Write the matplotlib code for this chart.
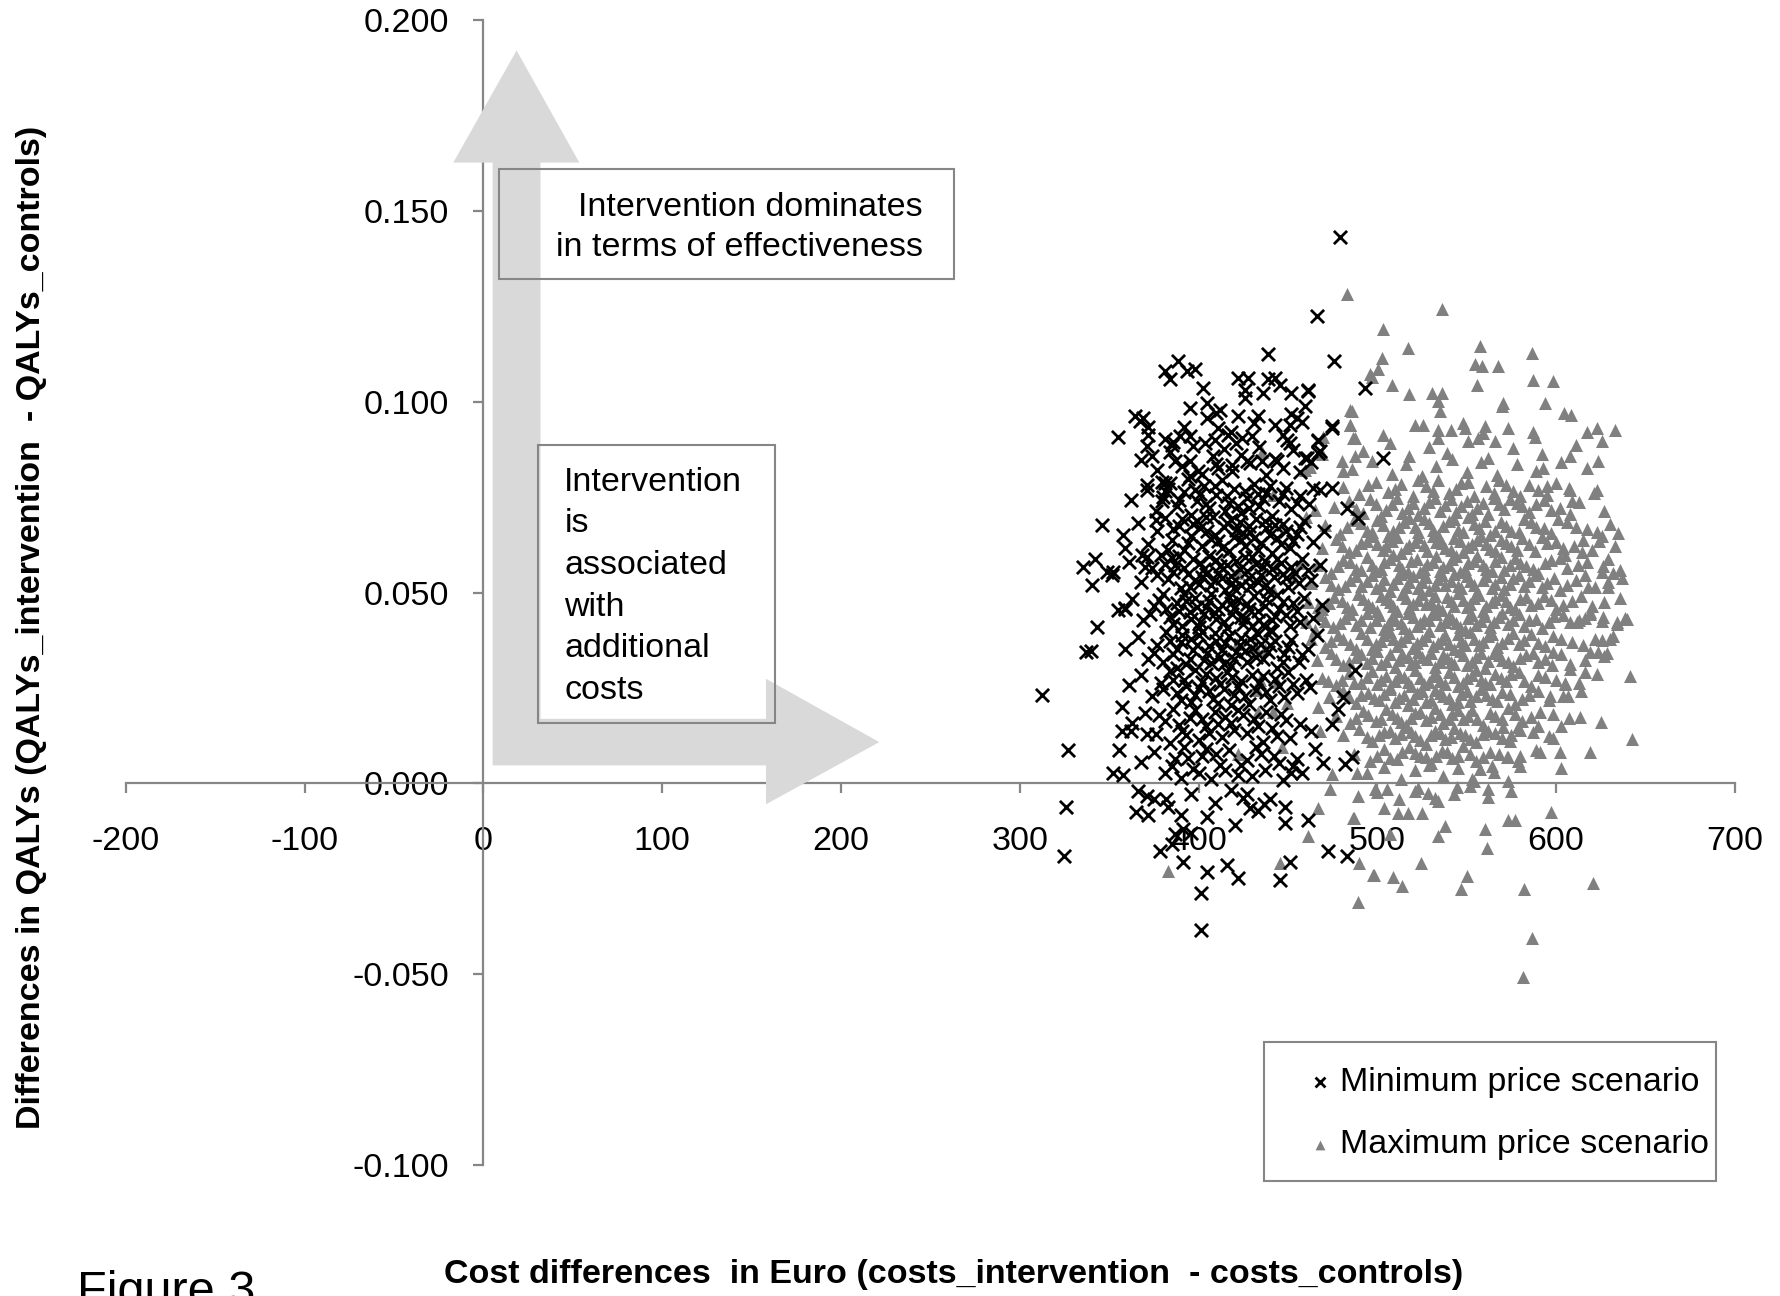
import matplotlib
matplotlib.use('Agg')
import matplotlib.pyplot as plt
from matplotlib.patches import Polygon, Rectangle
from matplotlib.ticker import FormatStrFormatter

plt.rcParams['font.family'] = ['Liberation Sans', 'DejaVu Sans']
plt.rcParams['axes.unicode_minus'] = False

GREY_AX = '#868686'
GREY_PTS = '#808080'
GREY_ARROW = '#d9d9d9'
FS = 24.5

# bootstrap replicates, minimum price scenario (cost diff in Euro, QALY diff)
min_pts = [
    # outer points
    (312.2, 0.0232), (327, 0.0088), (326, -0.0061), (324.6, -0.0191), (343, 0.0411), (337, 0.0345),
    (340, 0.0347), (358.9, 0.046), (352.3, 0.0026), (358, 0.0022), (357.4, 0.020), (357, 0.0136),
    (362, 0.0136), (355.5, 0.0088), (371, 0.0129), (366, -0.002), (375, -0.0042), (382, -0.0042),
    (365, -0.0075), (372, -0.0083), (378.5, -0.0178), (385, -0.016), (387, -0.0134), (391.5, -0.0121),
    (396, -0.013), (391.5, -0.0206), (404.5, -0.0233), (401.4, -0.0288), (401.4, -0.0384), (420.4, -0.011),
    (415.7, -0.0213), (421.9, -0.0247), (445.6, -0.0254), (451, -0.0206), (448.4, -0.0061), (448.4, -0.0103),
    (461.4, -0.0097), (472.6, -0.0178), (482.8, -0.0191), (433.4, -0.0073), (436.6, -0.0053), (427, -0.0029),
    (465, 0.0089), (469.8, 0.0054), (482, 0.005), (485.6, 0.0068), (455, 0.0063), (452, 0.0028),
    (457.7, 0.0028), (462.4, 0.0252), (478, 0.0195), (481, 0.0226), (474.5, 0.0155), (487.5, 0.0297),
    (466, 0.1225), (476, 0.1107), (493.1, 0.1037), (503.4, 0.0853), (474.5, 0.0932), (467, 0.0897),
    (468, 0.087), (461.4, 0.1028), (459.6, 0.0989), (459.6, 0.0853), (464.2, 0.0774), (474.5, 0.0774),
    (482.8, 0.0721), (489.4, 0.0695), (479, 0.1432), (439, 0.1126), (388.7, 0.1107), (381.3, 0.1081),
    (384, 0.1059), (393.4, 0.1081), (398, 0.1085), (402.7, 0.1037), (422.3, 0.1063), (427.9, 0.1063),
    (439, 0.1059), (442.8, 0.1063), (445.6, 0.1045), (426, 0.1032), (436.2, 0.1024), (452, 0.1024),
    (461.4, 0.1032), (395.2, 0.0984), (404.5, 0.0997), (410, 0.0971), (422.3, 0.0962), (426, 0.1011),
    (433.4, 0.0962), (452, 0.0967), (455, 0.0958), (442.8, 0.094), (451.2, 0.094), (474.4, 0.0936),
    (364.5, 0.0962), (369, 0.0958), (354.8, 0.0907), (371.9, 0.0914), (371, 0.0883), (373.8, 0.0857),
    (385, 0.0888), (389.6, 0.091), (395.2, 0.091), (403.6, 0.0892), (409.2, 0.0901), (411, 0.0932),
    (416.7, 0.0914), (424.1, 0.0905), (429.7, 0.091), (386.9, 0.0844), (395.2, 0.0844), (399.9, 0.0818),
    (411, 0.0826), (418.5, 0.0835), (426.9, 0.0844), (435.3, 0.0844), (443.7, 0.0844), (449.3, 0.0901),
    (451.2, 0.0892), (467, 0.0901), (467, 0.0866), (460.4, 0.0853), (371, 0.0782), (379.4, 0.0791),
    (381.3, 0.0787), (345.8, 0.0677), (335.6, 0.0568), (342.1, 0.0589), (348.6, 0.0554), (351.4, 0.0546),
    (340.2, 0.0519), (358.9, 0.0618), (358.9, 0.0458), (370, 0.0568), (368.2, 0.0598), (379.4, 0.0739),
    (381.3, 0.0765), (367.5, 0.0949), (372, 0.0935),
    # core
    (392, 0.0935), (405, 0.0958), (418, 0.0921), (431, 0.0944), (447, 0.0912), (381, 0.0903), (458, 0.0947), (412, 0.0979),
    (368, 0.0848), (377, 0.0822), (384, 0.0869), (391, 0.0831), (397, 0.0884), (402, 0.0812), (408, 0.0857), (414, 0.0876),
    (419, 0.0818), (424, 0.0861), (429, 0.0839), (434, 0.0882), (438, 0.0807), (443, 0.0851), (447, 0.0826), (453, 0.0874),
    (457, 0.0815), (463, 0.0843), (395, 0.0805), (421, 0.0893), (410, 0.0838), (386, 0.0895),
    (362, 0.0742), (371, 0.0768), (376, 0.0713), (380, 0.0751), (384, 0.0786), (388, 0.0728), (392, 0.0764), (396, 0.0702),
    (399, 0.0741), (403, 0.0779), (406, 0.0722), (410, 0.0757), (413, 0.0795), (417, 0.0734), (420, 0.0771), (424, 0.0709),
    (427, 0.0748), (431, 0.0784), (434, 0.0726), (438, 0.0762), (441, 0.0701), (445, 0.0739), (449, 0.0775), (452, 0.0718),
    (457, 0.0754), (462, 0.0731), (468, 0.0768), (394, 0.0797), (415, 0.0713), (436, 0.0744), (401, 0.0758), (428, 0.0721),
    (383, 0.0772), (389, 0.0743), (398, 0.0768), (404, 0.0731), (409, 0.0778), (416, 0.0752), (422, 0.0728), (426, 0.0766),
    (433, 0.0759), (440, 0.0779), (447, 0.0758), (455, 0.0735),
    (358, 0.0651), (366, 0.0683), (372, 0.0627), (377, 0.0662), (381, 0.0695), (385, 0.0638), (389, 0.0674), (392, 0.0612),
    (396, 0.0649), (399, 0.0687), (402, 0.0623), (405, 0.0661), (408, 0.0698), (411, 0.0636), (414, 0.0672), (417, 0.0609),
    (420, 0.0645), (423, 0.0684), (426, 0.0621), (429, 0.0658), (432, 0.0693), (435, 0.0631), (438, 0.0669), (441, 0.0604),
    (444, 0.0642), (447, 0.0679), (451, 0.0617), (455, 0.0654), (459, 0.0688), (464, 0.0633), (470, 0.0662), (383, 0.0612),
    (407, 0.0641), (418, 0.0691), (433, 0.0611), (397, 0.0679), (425, 0.0655), (446, 0.0627),
    (376, 0.0689), (386, 0.0667), (391, 0.0693), (394, 0.0631), (401, 0.0668), (404, 0.0697), (409, 0.0652), (413, 0.0618),
    (416, 0.0683), (421, 0.0663), (424, 0.0637), (428, 0.0674), (431, 0.0642), (437, 0.0688), (440, 0.0651), (443, 0.0678),
    (449, 0.0661), (453, 0.0636), (457, 0.0671),
    (352, 0.0553), (361, 0.0581), (368, 0.0527), (374, 0.0564), (379, 0.0598), (383, 0.0536), (387, 0.0572), (390, 0.0511),
    (394, 0.0548), (397, 0.0587), (400, 0.0523), (403, 0.0561), (406, 0.0596), (409, 0.0532), (412, 0.0569), (415, 0.0507),
    (418, 0.0544), (421, 0.0583), (424, 0.0519), (427, 0.0557), (430, 0.0592), (433, 0.0528), (436, 0.0566), (439, 0.0503),
    (442, 0.0541), (446, 0.0578), (450, 0.0514), (454, 0.0552), (458, 0.0589), (463, 0.0534), (468, 0.0571), (385, 0.0591),
    (402, 0.0542), (419, 0.0526), (437, 0.0584), (411, 0.0552), (395, 0.0515), (428, 0.0538), (447, 0.0549),
    (371, 0.0592), (377, 0.0546), (381, 0.0574), (386, 0.0553), (389, 0.0596), (392, 0.0564), (398, 0.0533), (401, 0.0577),
    (404, 0.0548), (407, 0.0519), (410, 0.0586), (413, 0.0538), (416, 0.0573), (420, 0.0512), (423, 0.0562), (426, 0.0594),
    (429, 0.0517), (432, 0.0574), (435, 0.0545), (438, 0.0521), (441, 0.0563), (444, 0.0587), (449, 0.0538), (452, 0.0568),
    (456, 0.0525), (461, 0.0558),
    (355, 0.0453), (363, 0.0482), (369, 0.0427), (375, 0.0466), (380, 0.0497), (384, 0.0435), (388, 0.0473), (391, 0.0412),
    (395, 0.0449), (398, 0.0486), (401, 0.0424), (404, 0.0462), (407, 0.0495), (410, 0.0431), (413, 0.0468), (416, 0.0406),
    (419, 0.0443), (422, 0.0481), (425, 0.0418), (428, 0.0456), (431, 0.0491), (434, 0.0427), (437, 0.0464), (440, 0.0402),
    (443, 0.0439), (447, 0.0476), (451, 0.0413), (455, 0.0451), (459, 0.0487), (464, 0.0433), (469, 0.0468), (392, 0.0496),
    (409, 0.0447), (426, 0.0433), (444, 0.0493), (400, 0.0409), (418, 0.0472), (436, 0.0415),
    (373, 0.0443), (378, 0.0481), (382, 0.0458), (386, 0.0417), (389, 0.0452), (393, 0.0478), (396, 0.0431), (399, 0.0462),
    (403, 0.0444), (406, 0.0478), (411, 0.0457), (414, 0.0423), (417, 0.0489), (420, 0.0459), (424, 0.0437), (427, 0.0471),
    (430, 0.0412), (433, 0.0452), (438, 0.0482), (441, 0.0427), (445, 0.0458), (449, 0.0441), (453, 0.0472), (457, 0.0424),
    (359, 0.0352), (366, 0.0384), (372, 0.0327), (377, 0.0363), (382, 0.0396), (386, 0.0338), (390, 0.0371), (393, 0.0314),
    (397, 0.0349), (400, 0.0388), (403, 0.0322), (406, 0.0359), (409, 0.0394), (412, 0.0331), (415, 0.0368), (418, 0.0307),
    (421, 0.0344), (424, 0.0382), (427, 0.0318), (430, 0.0355), (433, 0.0391), (436, 0.0326), (440, 0.0363), (444, 0.0302),
    (448, 0.0339), (452, 0.0376), (456, 0.0317), (461, 0.0353), (466, 0.0388), (388, 0.0301), (405, 0.0341), (423, 0.0362),
    (441, 0.0398), (414, 0.0312), (396, 0.0379),
    (375, 0.0341), (380, 0.0319), (384, 0.0374), (388, 0.0352), (391, 0.0389), (395, 0.0326), (399, 0.0362), (402, 0.0397),
    (407, 0.0316), (410, 0.0372), (413, 0.0349), (417, 0.0385), (420, 0.0326), (426, 0.0346), (429, 0.0378), (432, 0.0331),
    (435, 0.0366), (439, 0.0344), (443, 0.0372), (447, 0.0318), (450, 0.0357), (458, 0.0336),
    (361, 0.0257), (368, 0.0284), (374, 0.0228), (379, 0.0263), (384, 0.0295), (388, 0.0238), (392, 0.0271), (396, 0.0213),
    (400, 0.0249), (404, 0.0286), (408, 0.0222), (412, 0.0259), (416, 0.0293), (420, 0.0231), (424, 0.0268), (428, 0.0207),
    (432, 0.0244), (436, 0.0282), (440, 0.0218), (445, 0.0256), (450, 0.0291), (455, 0.0236), (460, 0.0271), (398, 0.0297),
    (418, 0.0204), (434, 0.0262), (390, 0.0219), (410, 0.0276),
    (380, 0.0247), (386, 0.0272), (393, 0.0254), (398, 0.0231), (402, 0.0266), (406, 0.0241), (411, 0.0211), (414, 0.0247),
    (419, 0.0279), (422, 0.0252), (426, 0.0229), (430, 0.0284), (438, 0.0239), (443, 0.0273), (448, 0.0227), (453, 0.0261),
    (363, 0.0157), (370, 0.0184), (376, 0.0128), (381, 0.0163), (386, 0.0195), (391, 0.0138), (395, 0.0171), (400, 0.0113),
    (404, 0.0149), (409, 0.0186), (413, 0.0122), (418, 0.0159), (422, 0.0193), (427, 0.0131), (431, 0.0168), (436, 0.0107),
    (441, 0.0144), (446, 0.0182), (451, 0.0119), (457, 0.0156), (463, 0.0138), (384, 0.0106), (415, 0.0174), (398, 0.0192),
    (378, 0.0179), (389, 0.0154), (393, 0.0127), (402, 0.0168), (406, 0.0133), (411, 0.0156), (420, 0.0141), (425, 0.0178),
    (433, 0.0149), (438, 0.0186), (444, 0.0125), (449, 0.0167),
    (368, 0.0057), (375, 0.0083), (381, 0.0028), (387, 0.0064), (392, 0.0094), (397, 0.0038), (402, 0.0071), (407, 0.0012),
    (412, 0.0049), (417, 0.0086), (422, 0.0023), (427, 0.0061), (432, 0.0095), (437, 0.0034), (442, 0.0072), (447, 0.0008),
    (453, 0.0045), (404, 0.0091), (390, 0.0015),
    (385, 0.0046), (394, 0.0066), (400, 0.0027), (410, 0.0076), (415, 0.0035), (424, 0.0049), (430, 0.0018), (435, 0.0078),
    (445, 0.0054),
    (371, -0.0034), (383, -0.0061), (396, -0.0027), (409, -0.0052), (418, -0.0018), (429, -0.0066), (440, -0.0041),
    (405, -0.0088), (390, -0.0083), (425, -0.0039),
]

# bootstrap replicates, maximum price scenario
max_pts = [
    # outer points
    (482.8, 0.1282), (536, 0.1243), (503.4, 0.119), (517.3, 0.1142), (502.4, 0.1116), (557.4, 0.1147),
    (586.3, 0.1129), (554.6, 0.1098), (567.7, 0.1094), (598.4, 0.1054), (555.5, 0.1045), (495.9, 0.1072),
    (508, 0.1045), (530.4, 0.1024), (536, 0.1024), (534.1, 0.1002), (535, 0.0976), (570.5, 0.0997),
    (593.8, 0.0997), (604.4, 0.0971), (485.6, 0.0976), (484.7, 0.094), (486.6, 0.0905), (487.5, 0.0857),
    (480, 0.0844), (481, 0.0818), (525.7, 0.094), (534.1, 0.0927), (549, 0.0932), (560.2, 0.0936),
    (565.8, 0.0897), (556.5, 0.0905), (587.2, 0.0922), (622.6, 0.0932), (632.9, 0.0927), (625.4, 0.0897),
    (623.6, 0.0844), (607.8, 0.0857), (622.6, 0.0769), (607.8, 0.0769), (608.7, 0.0739), (594.7, 0.0778),
    (625.4, 0.0647), (634.8, 0.0655), (605, 0.0598), (614.3, 0.0607), (619.9, 0.0611), (629.2, 0.0589),
    (625.4, 0.0554), (632, 0.055), (629.2, 0.0515), (618, 0.0515), (638.5, 0.0432), (608.2, 0.0966),
    (617.1, 0.0922), (592.4, 0.0827), (587.3, 0.1056), (569.5, 0.099), (558.7, 0.1095), (518, 0.102),
    (500.2, 0.1086), (469.7, 0.0907), (469.1, 0.0862), (625.4, 0.0425), (634.3, 0.0422), (628.5, 0.0342),
    (639.4, 0.043), (641.3, 0.0281), (642.2, 0.0116), (630, 0.0379), (619, 0.0081), (625.1, 0.016),
    (620.8, -0.0261), (586.3, -0.0406), (581.7, -0.0507), (597, -0.0075), (573.3, -0.0095), (577, -0.0095),
    (560.2, -0.0121), (561.1, -0.0169), (550, -0.0244), (546.6, -0.0276), (537.8, -0.0112), (534, -0.0139),
    (524.4, -0.0209), (513.6, -0.0268), (498.3, -0.024), (489.4, -0.031), (486.6, -0.009), (503.9, -0.0064),
    (511.7, -0.0077), (517.3, -0.0077), (525, -0.0077), (489.4, -0.0033), (498.7, -0.0016), (505.3, -0.0016),
    (521, -0.002), (528.5, -0.0025), (532.3, -0.0038), (544.4, -0.0011), (562, -0.0016), (572.9, 0.0006),
    (603, 0.0041), (602.2, 0.0081), (591, 0.0081), (578.9, 0.0059), (572.3, 0.0068), (574.2, 0.0111),
    (552.7, 0.001), (557.4, 0.0037), (563.9, 0.0046), (598.4, 0.012), (603, 0.0151), (590, 0.0151),
    (578.9, 0.0147), (570.5, 0.0147), (613.4, 0.0173), (606.8, 0.023), (596.6, 0.023), (619, 0.0344),
    (623.6, 0.0344), (625.5, 0.0375), (616.2, 0.0291), (607.8, 0.03), (605, 0.026), (597.5, 0.0311),
    (611.5, 0.0423), (616.2, 0.0432), (619, 0.0445), (490, -0.0209), (508.5, -0.0245), (582, -0.0278),
    (382.7, -0.0231), (445.6, -0.0209), (461.4, -0.0139), (467, -0.0064), (473.5, -0.0016), (474.4, 0.0024),
    (488.4, 0.0028), (487, -0.009), (497.8, -0.024), (507, -0.0134),
    # among the minimum-price cloud
    (421.3, 0.0366), (431.6, 0.0357), (437.2, 0.0353), (441.8, 0.0186), (433.4, 0.0186), (422.3, 0.0076),
    (446.5, 0.0094), (472.6, 0.0269), (467, 0.0199), (468, 0.0138), (460, 0.0699), (435.3, 0.0869),
    (441.8, 0.0756), (459.6, 0.0821), (462.4, 0.083), (465.2, 0.0716), (484.5, 0.0979), (484.5, 0.094),
    (487.3, 0.0904), (496.9, 0.1066), (422.3, 0.055), (453, 0.0542), (456.8, 0.0577), (441.8, 0.0507),
    (467, 0.0463), (465.2, 0.0402), (434.4, 0.0271), (443.7, 0.0266), (432.5, 0.0245), (449.3, 0.021),
    # core
    (503, 0.0912), (521, 0.0938), (534, 0.0905), (548, 0.0944), (559, 0.0918), (573, 0.0931), (588, 0.0909), (541, 0.0926),
    (492, 0.0871), (507, 0.0893), (518, 0.0858), (529, 0.0882), (539, 0.0866), (551, 0.0897), (562, 0.0853), (576, 0.0879),
    (592, 0.0864), (611, 0.0886),
    (486, 0.0823), (497, 0.0845), (508, 0.0812), (516, 0.0838), (525, 0.0806), (533, 0.0832), (542, 0.0849), (550, 0.0815),
    (558, 0.0841), (567, 0.0809), (578, 0.0836), (589, 0.0818), (603, 0.0843), (617, 0.0827),
    (481, 0.0776), (490, 0.0758), (499, 0.0791), (506, 0.0763), (513, 0.0785), (520, 0.0752), (527, 0.0779), (534, 0.0796),
    (540, 0.0761), (547, 0.0787), (554, 0.0754), (561, 0.0778), (568, 0.0794), (576, 0.0766), (585, 0.0783), (595, 0.0757),
    (607, 0.0774), (621, 0.0761),
    (495, 0.0782), (510, 0.0771), (523, 0.0794), (531, 0.0765), (544, 0.0772), (551, 0.0789), (565, 0.0762), (572, 0.0781),
    (580, 0.0754), (590, 0.0769), (600, 0.0788),
    (476, 0.0724), (484, 0.0741), (492, 0.0708), (499, 0.0732), (505, 0.0716), (511, 0.0747), (517, 0.0721), (523, 0.0703),
    (529, 0.0738), (535, 0.0714), (541, 0.0745), (547, 0.0726), (553, 0.0707), (559, 0.0734), (565, 0.0749), (571, 0.0718),
    (578, 0.0736), (585, 0.0711), (593, 0.0743), (602, 0.0722), (613, 0.0738), (627, 0.0715),
    (488, 0.0719), (496, 0.0745), (502, 0.0701), (508, 0.0731), (514, 0.0709), (520, 0.0736), (526, 0.0722), (532, 0.0748),
    (538, 0.0729), (544, 0.0711), (550, 0.0739), (556, 0.0722), (562, 0.0706), (568, 0.0731), (574, 0.0745), (581, 0.0726),
    (589, 0.0731), (597, 0.0717), (608, 0.0706),
    (471, 0.0676), (479, 0.0654), (487, 0.0689), (494, 0.0662), (500, 0.0691), (506, 0.0648), (512, 0.0673), (518, 0.0695),
    (523, 0.0658), (529, 0.0681), (534, 0.0652), (540, 0.0687), (545, 0.0664), (551, 0.0698), (557, 0.0669), (563, 0.0651),
    (569, 0.0684), (575, 0.0661), (582, 0.0693), (589, 0.0672), (597, 0.0655), (606, 0.0686), (617, 0.0666), (630, 0.0679),
    (483, 0.0671), (491, 0.0682), (497, 0.0658), (503, 0.0677), (509, 0.0661), (515, 0.0686), (521, 0.0672), (526, 0.0692),
    (531, 0.0663), (537, 0.0675), (543, 0.0693), (548, 0.0658), (554, 0.0679), (560, 0.0688), (566, 0.0662), (572, 0.0675),
    (579, 0.0658), (586, 0.0684), (593, 0.0669), (601, 0.0692), (611, 0.0672), (623, 0.0658),
    (469, 0.0618), (477, 0.0641), (484, 0.0607), (491, 0.0629), (497, 0.0647), (503, 0.0612), (508, 0.0636), (513, 0.0603),
    (518, 0.0624), (523, 0.0645), (528, 0.0609), (533, 0.0633), (538, 0.0616), (543, 0.0642), (548, 0.0605), (553, 0.0628),
    (558, 0.0649), (563, 0.0614), (569, 0.0637), (575, 0.0621), (581, 0.0644), (588, 0.0608), (595, 0.0631), (604, 0.0617),
    (615, 0.0639), (633, 0.0623),
    (480, 0.0623), (488, 0.0611), (494, 0.0634), (500, 0.0628), (505, 0.0621), (511, 0.0646), (516, 0.0617), (521, 0.0633),
    (526, 0.0624), (531, 0.0647), (536, 0.0629), (541, 0.0611), (546, 0.0634), (551, 0.0619), (556, 0.0637), (561, 0.0627),
    (566, 0.0608), (572, 0.0629), (578, 0.0611), (585, 0.0626), (592, 0.0645), (600, 0.0633), (610, 0.0621), (624, 0.0635),
    (466, 0.0572), (474, 0.0551), (481, 0.0586), (488, 0.0563), (494, 0.0594), (499, 0.0557), (504, 0.0579), (509, 0.0598),
    (514, 0.0561), (519, 0.0583), (524, 0.0553), (528, 0.0575), (533, 0.0596), (537, 0.0566), (542, 0.0588), (546, 0.0554),
    (551, 0.0577), (556, 0.0595), (561, 0.0562), (566, 0.0584), (571, 0.0558), (577, 0.0591), (583, 0.0569), (590, 0.0552),
    (597, 0.0586), (606, 0.0565), (617, 0.0581), (636, 0.0559),
    (478, 0.0569), (485, 0.0581), (491, 0.0559), (497, 0.0573), (502, 0.0562), (507, 0.0588), (512, 0.0572), (517, 0.0553),
    (522, 0.0589), (526, 0.0563), (531, 0.0579), (535, 0.0556), (540, 0.0571), (544, 0.0597), (549, 0.0563), (554, 0.0583),
    (559, 0.0571), (564, 0.0556), (569, 0.0592), (574, 0.0571), (580, 0.0578), (587, 0.0562), (594, 0.0577), (602, 0.0591),
    (612, 0.0573), (626, 0.0569),
    (463, 0.0524), (471, 0.0541), (478, 0.0508), (485, 0.0532), (491, 0.0516), (497, 0.0547), (502, 0.0521), (507, 0.0503),
    (511, 0.0538), (516, 0.0514), (520, 0.0543), (525, 0.0527), (529, 0.0506), (534, 0.0535), (538, 0.0519), (543, 0.0548),
    (547, 0.0511), (552, 0.0531), (556, 0.0502), (561, 0.0544), (566, 0.0523), (571, 0.0509), (576, 0.0537), (582, 0.0518),
    (588, 0.0546), (595, 0.0526), (602, 0.0507), (611, 0.0533), (622, 0.0515), (637, 0.0539),
    (474, 0.0521), (482, 0.0518), (488, 0.0543), (494, 0.0529), (499, 0.0511), (504, 0.0536), (509, 0.0523), (513, 0.0549),
    (518, 0.0528), (523, 0.0512), (527, 0.0541), (532, 0.0521), (536, 0.0546), (541, 0.0529), (545, 0.0517), (550, 0.0544),
    (554, 0.0521), (559, 0.0532), (564, 0.0511), (569, 0.0541), (574, 0.0522), (579, 0.0546), (585, 0.0529), (592, 0.0514),
    (599, 0.0538), (606, 0.0521), (616, 0.0545), (629, 0.0527),
    (461, 0.0476), (469, 0.0458), (476, 0.0489), (483, 0.0463), (489, 0.0495), (495, 0.0471), (500, 0.0452), (505, 0.0484),
    (509, 0.0466), (514, 0.0497), (518, 0.0459), (523, 0.0481), (527, 0.0469), (532, 0.0492), (536, 0.0455), (541, 0.0478),
    (545, 0.0499), (550, 0.0462), (554, 0.0486), (559, 0.0451), (564, 0.0474), (569, 0.0494), (574, 0.0461), (580, 0.0483),
    (586, 0.0468), (593, 0.0491), (600, 0.0457), (609, 0.0479), (620, 0.0465), (636, 0.0487),
    (473, 0.0472), (480, 0.0479), (486, 0.0456), (492, 0.0483), (497, 0.0462), (502, 0.0491), (507, 0.0475), (511, 0.0452),
    (516, 0.0486), (520, 0.0469), (525, 0.0496), (530, 0.0474), (534, 0.0463), (539, 0.0489), (543, 0.0466), (548, 0.0481),
    (552, 0.0471), (557, 0.0493), (561, 0.0466), (566, 0.0484), (572, 0.0477), (577, 0.0456), (583, 0.0488), (590, 0.0473),
    (597, 0.0481), (604, 0.0468), (614, 0.0491), (627, 0.0474),
    (460, 0.0423), (468, 0.0441), (475, 0.0409), (482, 0.0434), (488, 0.0416), (494, 0.0447), (499, 0.0428), (504, 0.0404),
    (508, 0.0437), (513, 0.0419), (517, 0.0446), (522, 0.0412), (526, 0.0431), (531, 0.0449), (535, 0.0414), (540, 0.0438),
    (544, 0.0421), (549, 0.0403), (553, 0.0442), (558, 0.0426), (563, 0.0409), (568, 0.0436), (573, 0.0418), (579, 0.0445),
    (585, 0.0427), (592, 0.0406), (599, 0.0439), (608, 0.0422), (619, 0.0448), (634, 0.0417),
    (471, 0.0426), (479, 0.0421), (485, 0.0443), (491, 0.0427), (496, 0.0411), (501, 0.0442), (506, 0.0418), (510, 0.0429),
    (515, 0.0408), (520, 0.0437), (524, 0.0419), (529, 0.0427), (533, 0.0443), (538, 0.0422), (542, 0.0431), (546, 0.0411),
    (551, 0.0432), (555, 0.0416), (560, 0.0438), (565, 0.0424), (570, 0.0446), (576, 0.0429), (582, 0.0413), (589, 0.0431),
    (596, 0.0423), (604, 0.0441), (613, 0.0427), (626, 0.0436),
    (463, 0.0378), (471, 0.0356), (478, 0.0389), (485, 0.0364), (491, 0.0394), (497, 0.0352), (502, 0.0373), (507, 0.0397),
    (511, 0.0361), (516, 0.0384), (520, 0.0355), (525, 0.0376), (529, 0.0398), (534, 0.0367), (538, 0.0389), (543, 0.0353),
    (547, 0.0374), (552, 0.0396), (557, 0.0362), (562, 0.0385), (567, 0.0358), (573, 0.0381), (579, 0.0366), (586, 0.0392),
    (594, 0.0359), (603, 0.0377), (615, 0.0363), (632, 0.0386),
    (474, 0.0373), (481, 0.0379), (488, 0.0352), (494, 0.0379), (499, 0.0364), (504, 0.0388), (509, 0.0379), (513, 0.0372),
    (518, 0.0393), (522, 0.0367), (527, 0.0386), (531, 0.0359), (536, 0.0378), (540, 0.0364), (545, 0.0391), (549, 0.0362),
    (554, 0.0379), (559, 0.0371), (564, 0.0392), (570, 0.0368), (576, 0.0394), (582, 0.0376), (590, 0.0369), (598, 0.0385),
    (609, 0.0371), (622, 0.0379),
    (466, 0.0324), (474, 0.0341), (481, 0.0309), (488, 0.0332), (494, 0.0316), (500, 0.0347), (505, 0.0321), (510, 0.0304),
    (514, 0.0338), (519, 0.0313), (523, 0.0344), (528, 0.0327), (532, 0.0306), (537, 0.0335), (541, 0.0318), (546, 0.0348),
    (550, 0.0311), (555, 0.0331), (560, 0.0302), (565, 0.0342), (570, 0.0323), (576, 0.0308), (583, 0.0337), (590, 0.0319),
    (598, 0.0345), (608, 0.0314), (627, 0.0333),
    (477, 0.0325), (484, 0.0318), (491, 0.0338), (497, 0.0329), (502, 0.0314), (507, 0.0339), (512, 0.0322), (517, 0.0331),
    (521, 0.0318), (525, 0.0331), (530, 0.0341), (535, 0.0319), (539, 0.0329), (543, 0.0312), (548, 0.0336), (553, 0.0319),
    (558, 0.0341), (562, 0.0321), (568, 0.0337), (573, 0.0318), (580, 0.0328), (587, 0.0341), (594, 0.0327), (603, 0.0338),
    (616, 0.0322),
    (469, 0.0276), (477, 0.0258), (484, 0.0288), (491, 0.0263), (497, 0.0294), (502, 0.0271), (507, 0.0252), (512, 0.0284),
    (517, 0.0266), (521, 0.0297), (526, 0.0259), (531, 0.0281), (535, 0.0268), (540, 0.0291), (545, 0.0254), (550, 0.0277),
    (555, 0.0298), (560, 0.0262), (566, 0.0286), (572, 0.0269), (579, 0.0293), (586, 0.0256), (594, 0.0279), (605, 0.0264),
    (623, 0.0287),
    (480, 0.0271), (487, 0.0264), (494, 0.0279), (500, 0.0259), (505, 0.0282), (510, 0.0268), (515, 0.0279), (519, 0.0256),
    (524, 0.0276), (529, 0.0266), (533, 0.0287), (538, 0.0261), (543, 0.0279), (548, 0.0263), (553, 0.0284), (558, 0.0271),
    (563, 0.0259), (569, 0.0277), (575, 0.0286), (582, 0.0268), (590, 0.0283), (600, 0.0271), (613, 0.0262),
    (473, 0.0226), (481, 0.0243), (488, 0.0211), (495, 0.0236), (501, 0.0218), (507, 0.0247), (512, 0.0223), (517, 0.0205),
    (522, 0.0238), (527, 0.0214), (532, 0.0245), (537, 0.0229), (542, 0.0207), (547, 0.0234), (552, 0.0216), (558, 0.0248),
    (564, 0.0221), (570, 0.0239), (577, 0.0208), (585, 0.0232), (596, 0.0219), (614, 0.0241),
    (484, 0.0226), (491, 0.0231), (498, 0.0224), (504, 0.0233), (510, 0.0212), (515, 0.0231), (520, 0.0222), (525, 0.0241),
    (530, 0.0219), (535, 0.0236), (540, 0.0224), (545, 0.0213), (550, 0.0241), (555, 0.0228), (561, 0.0232), (567, 0.0216),
    (574, 0.0233), (581, 0.0221), (590, 0.0242), (604, 0.0228),
    (477, 0.0176), (485, 0.0158), (492, 0.0189), (499, 0.0163), (505, 0.0194), (511, 0.0171), (516, 0.0152), (521, 0.0184),
    (527, 0.0166), (532, 0.0197), (537, 0.0159), (542, 0.0181), (548, 0.0168), (553, 0.0192), (559, 0.0154), (566, 0.0177),
    (573, 0.0198), (581, 0.0162), (591, 0.0186), (607, 0.0171),
    (488, 0.0171), (495, 0.0178), (502, 0.0169), (508, 0.0182), (513, 0.0161), (519, 0.0172), (524, 0.0186), (530, 0.0174),
    (535, 0.0181), (540, 0.0168), (545, 0.0191), (551, 0.0176), (556, 0.0169), (563, 0.0183), (570, 0.0169), (577, 0.0182),
    (586, 0.0173), (598, 0.0181),
    (481, 0.0126), (490, 0.0143), (497, 0.0111), (504, 0.0134), (510, 0.0118), (516, 0.0147), (521, 0.0123), (527, 0.0104),
    (532, 0.0138), (538, 0.0115), (543, 0.0144), (549, 0.0127), (555, 0.0108), (562, 0.0136), (570, 0.0119), (580, 0.0141),
    (596, 0.0124),
    (494, 0.0121), (501, 0.0126), (507, 0.0138), (513, 0.0129), (519, 0.0135), (524, 0.0114), (530, 0.0126), (535, 0.0132),
    (541, 0.0121), (546, 0.0133), (552, 0.0117), (559, 0.0128), (566, 0.0131), (575, 0.0126), (587, 0.0134),
    (487, 0.0076), (496, 0.0058), (504, 0.0089), (511, 0.0063), (518, 0.0094), (524, 0.0071), (530, 0.0052), (536, 0.0084),
    (542, 0.0066), (548, 0.0097), (555, 0.0059), (563, 0.0081), (573, 0.0068), (589, 0.0087),
    (500, 0.0071), (507, 0.0066), (514, 0.0081), (521, 0.0079), (527, 0.0068), (533, 0.0071), (539, 0.0081), (545, 0.0072),
    (552, 0.0078), (559, 0.0069), (568, 0.0076), (580, 0.0072),
    (494, 0.0026), (504, 0.0043), (513, 0.0011), (521, 0.0034), (529, 0.0048), (537, 0.0018), (545, 0.0039), (554, 0.0007),
    (565, 0.0029), (580, 0.0045),
    (500, -0.0024), (512, -0.0041), (523, -0.0013), (534, -0.0047), (543, -0.0029), (552, -0.0008), (562, -0.0036),
    (575, -0.0019),
]

min_cost = [p[0] for p in min_pts]
min_qaly = [p[1] for p in min_pts]
max_cost = [p[0] for p in max_pts]
max_qaly = [p[1] for p in max_pts]

x_ticks = list(range(-200, 701, 100))
y_ticks = [-0.1, -0.05, 0.0, 0.05, 0.1, 0.15, 0.2]

fig = plt.figure(figsize=(17.81, 12.96), dpi=100)
ax = fig.add_axes([0.07058, 0.10123, 0.90354, 0.88311])
ax.set_xlim(-200, 700)
ax.set_ylim(-0.1, 0.2)

# axes crossing at the origin
ax.spines['left'].set_position(('data', 0))
ax.spines['bottom'].set_position(('data', 0))
ax.spines['top'].set_visible(False)
ax.spines['right'].set_visible(False)
for s in ('left', 'bottom'):
    ax.spines[s].set_color(GREY_AX)
    ax.spines[s].set_linewidth(1.6)
ax.set_xticks(x_ticks)
ax.set_yticks(y_ticks)
ax.yaxis.set_major_formatter(FormatStrFormatter('%.3f'))
ax.tick_params(direction='out', length=7.5, width=1.6, color=GREY_AX,
               labelsize=FS, labelcolor='black')
ax.tick_params(axis='x', pad=23)
ax.tick_params(axis='y', pad=17)

# L-shaped grey arrow
arrow = [(5.2, 0.0047), (158.1, 0.0047), (158.1, -0.0055), (221.5, 0.0108), (158.1, 0.0274),
         (158.1, 0.0169), (32.0, 0.0169), (32.0, 0.1627), (53.7, 0.1627), (18.6, 0.1921),
         (-16.8, 0.1627), (5.2, 0.1627)]
ax.add_patch(Polygon(arrow, closed=True, facecolor=GREY_ARROW, edgecolor='none', zorder=3))

# text boxes
ax.add_patch(Rectangle((8.8, 0.1322), 254.7, 0.0288, facecolor='none', edgecolor=GREY_AX,
                       linewidth=1.5, zorder=6))
ax.text(245.7, 0.1488, 'Intervention dominates', ha='right', va='baseline', fontsize=FS, zorder=7)
ax.text(245.7, 0.1381, 'in terms of effectiveness', ha='right', va='baseline', fontsize=FS, zorder=7)

ax.add_patch(Rectangle((30.8, 0.0158), 132.5, 0.0730, facecolor='none', edgecolor=GREY_AX,
                       linewidth=1.5, zorder=6))
box2_lines = ['Intervention', 'is', 'associated', 'with', 'additional', 'costs']
for i, line in enumerate(box2_lines):
    ax.text(45.3, 0.0767 - i * 0.01093, line, ha='left', va='baseline', fontsize=FS, zorder=7)

# scatter
h_max = ax.scatter(max_cost, max_qaly, marker='^', s=88, color=GREY_PTS, linewidths=0, zorder=4)
h_min = ax.scatter(min_cost, min_qaly, marker='x', s=90, color='black', linewidths=2.0, zorder=5)

# legend
ax.add_patch(Rectangle((1264 / 1781, 1 - 1181 / 1296), 452 / 1781, 139 / 1296,
                       transform=fig.transFigure, clip_on=False, facecolor='white',
                       edgecolor=GREY_AX, linewidth=1.5, zorder=9))
leg = ax.legend([h_min, h_max], ['Minimum price scenario', 'Maximum price scenario'],
                loc='center left', bbox_to_anchor=(1306.4 / 1781, 1 - 1113.5 / 1296),
                bbox_transform=fig.transFigure, frameon=False, borderpad=0, borderaxespad=0,
                handlelength=0.8, handletextpad=0.2, labelspacing=0.94, markerscale=0.75,
                scatterpoints=1, fontsize=FS)
leg.set_zorder(10)

fig.text(32 / 1781, 1 - 627.5 / 1296,
         'Differences in QALYs (QALYs_intervention  - QALYs_controls)',
         rotation=90, ha='center', va='center', fontsize=FS, fontweight='bold')
fig.text(954 / 1781, 1 - 1274 / 1296,
         'Cost differences  in Euro (costs_intervention  - costs_controls)',
         ha='center', va='center', fontsize=FS, fontweight='bold')
fig.text(77 / 1781, 1 - 1305 / 1296, 'Figure 3', ha='left', va='baseline', fontsize=35)

fig.savefig('out.png', dpi=100)
